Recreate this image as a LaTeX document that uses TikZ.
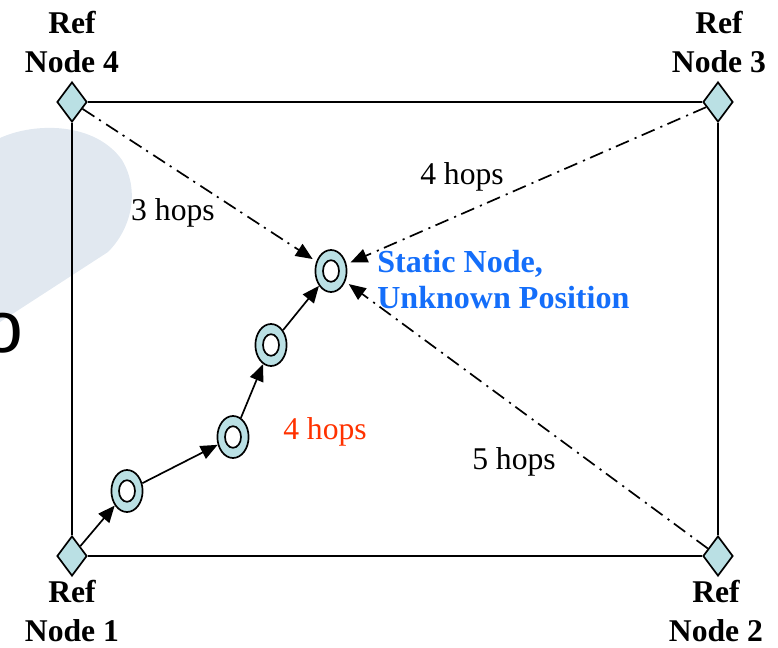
\documentclass[tikz,border=0pt]{standalone}
\usepackage{fontspec}
\setmainfont{Liberation Serif}
\newfontfamily\sansfam{Liberation Sans}
\usetikzlibrary{positioning,arrows.meta,shapes.geometric}
\definecolor{nodecyan}{RGB}{186,224,228}
\definecolor{blobgray}{RGB}{225,232,240}
\definecolor{staticblue}{RGB}{20,110,250}
\definecolor{hopred}{RGB}{255,50,0}

\begin{document}
\begin{tikzpicture}[x=0.025cm, y=-0.025cm, >={Triangle[length=12pt,width=10pt]},
    refnode/.style={diamond, draw, line width=1.2pt, fill=nodecyan, minimum width=0.75cm, minimum height=1cm, inner sep=0pt},
    ring/.style={ellipse, draw, line width=1.2pt, fill=nodecyan, minimum width=0.78cm, minimum height=1.05cm, inner sep=0pt,
        path picture={\draw[line width=1.2pt, fill=white] (path picture bounding box.center) ellipse (0.2cm and 0.27cm);}},
    reflabel/.style={font=\bfseries\fontsize{22.5}{28}\selectfont, align=center},
    hops/.style={font=\fontsize{22.5}{26}\selectfont},
    link/.style={line width=1.2pt},
    hopline/.style={line width=1.2pt, dash pattern=on 10pt off 4pt on 1.5pt off 4.5pt, shorten >=3pt}]

    \useasboundingbox (0,0) rectangle (778,648);

    % --- BACKGROUND ---
    \fill[blobgray] (0,138) .. controls (35,122) and (95,122) .. (122,160)
        .. controls (140,190) and (132,228) .. (108,252) -- (0,322) -- cycle;
    \node[font=\sansfam\fontsize{52}{52}\selectfont] (stray) at (3,333) {o};

    % Reference nodes (corners)
    \node[refnode] (n4) at (72,102) {};
    \node[refnode] (n3) at (718,102) {};
    \node[refnode] (n1) at (72,556) {};
    \node[refnode] (n2) at (718,556) {};

    % Relay nodes and the static node
    \node[ring] (static) at (331,271) {};
    \node[ring] (r3) at (271,345) {};
    \node[ring] (r2) at (233,437) {};
    \node[ring] (r1) at (127,491) {};

    % Frame
    \draw[link] (n4) -- (n3) -- (n2) -- (n1) -- (n4);

    % Hop estimates from the far reference nodes
    \draw[hopline, ->] (n4) -- (static);
    \draw[hopline, ->] (n3) -- (static);
    \draw[hopline, ->] (n2) -- (static);

    % Multi-hop path from Ref Node 1
    \draw[link, ->] (n1) -- (r1);
    \draw[link, ->] (r1) -- (r2);
    \draw[link, ->] (r2) -- (r3);
    \draw[link, ->] (r3) -- (static);

    % --- LABELS ---
    \node[reflabel] (l4) at (72,42) {Ref\\Node 4};
    \node[reflabel] (l3) at (719,42) {Ref\\Node 3};
    \node[reflabel] (l1) at (72,611) {Ref\\Node 1};
    \node[reflabel] (l2) at (716,611) {Ref\\Node 2};

    \node[hops] (h4) at (173,213) {3 hops};
    \node[hops] (h3) at (462,177) {4 hops};
    \node[hops] (h2) at (514,462) {5 hops};
    \node[hops, text=hopred] (h1) at (325,432) {4 hops};

    \node[font=\bfseries\fontsize{22.8}{25.6}\selectfont, text=staticblue, align=left, anchor=west, inner sep=0pt]
        (slabel) at (377,280) {Static Node,\\Unknown Position};

\end{tikzpicture}
\end{document}
